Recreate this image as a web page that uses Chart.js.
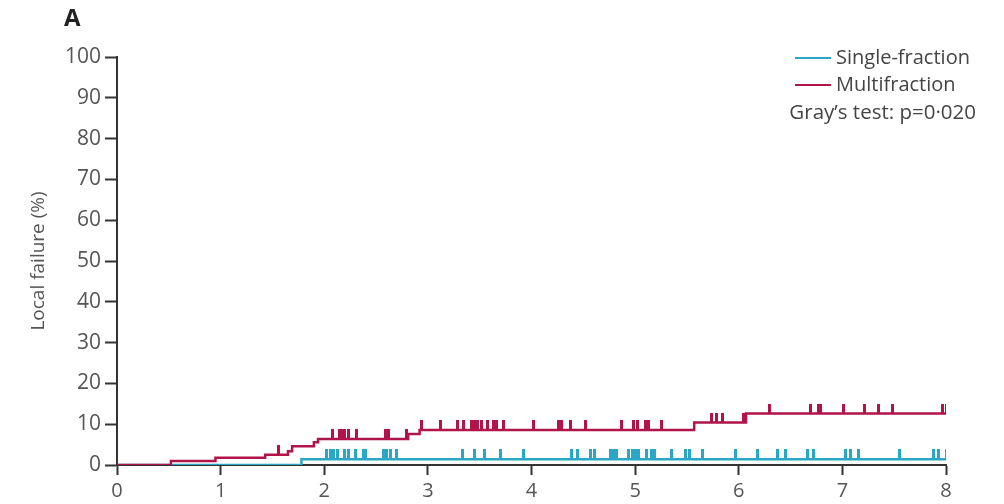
<!DOCTYPE html>
<html>
<head>
<meta charset="utf-8">
<script src="https://cdn.jsdelivr.net/npm/chart.js@4"></script>
<style>
  html, body { margin: 0; padding: 0; background: #fff; }
  #wrap { width: 1004px; height: 504px; position: relative; }
</style>
</head>
<body>
<div id="wrap"><canvas id="chart-failure"></canvas></div>
<script>
// step curves (years, cumulative local failure %)
const multiTimes = [0, 0.52, 0.95, 1.43, 1.65, 1.69, 1.90, 1.94, 2.81, 2.92, 5.57, 6.07, 8];
const multiLevels = [0, 1.0, 1.8, 2.5, 3.4, 4.6, 5.6, 6.4, 7.6, 8.6, 10.4, 12.6, 12.6];
const singleTimes = [0, 1.78, 8];
const singleLevels = [0, 1.4, 1.4];

// censoring marks
const multiCensored = [1.56, 2.08, 2.15, 2.18, 2.20, 2.23, 2.31, 2.59, 2.62, 2.79, 2.94, 3.12, 3.29, 3.34,
  3.42, 3.45, 3.48, 3.52, 3.58, 3.63, 3.66, 3.73, 4.02, 4.26, 4.29, 4.38, 4.52, 4.87, 4.98, 5.02, 5.10,
  5.13, 5.25, 5.74, 5.79, 5.84, 6.05, 6.30, 6.69, 6.77, 6.79, 7.01, 7.21, 7.35, 7.48, 7.97, 8.0];
const singleCensored = [2.02, 2.06, 2.09, 2.13, 2.20, 2.23, 2.30, 2.38, 2.40, 2.57, 2.60, 2.64, 2.70, 3.33,
  3.45, 3.55, 3.70, 3.92, 4.39, 4.44, 4.57, 4.61, 4.76, 4.79, 4.82, 4.94, 4.97, 5.00, 5.03, 5.11, 5.16,
  5.19, 5.35, 5.49, 5.52, 5.65, 5.97, 6.18, 6.37, 6.45, 6.66, 6.72, 7.03, 7.08, 7.16, 7.55, 7.88, 7.93, 8.0];

const xTicks = [0, 1, 2, 3, 4, 5, 6, 7, 8];
const yTicks = [0, 10, 20, 30, 40, 50, 60, 70, 80, 90, 100];
const seriesNames = ["Single-fraction", "Multifraction"];
const testLabel = "Gray\u2019s test: p=0\u00b7020";

const RED = "#b01448";
const BLUE = "#2aa6c6";
const FONT = "'Open Sans', 'Noto Sans', sans-serif";

function levelAt(times, levels, t) {
  let v = levels[0];
  for (let i = 0; i < times.length; i++) {
    if (times[i] <= t) v = levels[i];
  }
  return v;
}

function tickMark(color) {
  // upward tick: only top half of the canvas is painted
  const c = document.createElement("canvas");
  c.width = 3;
  c.height = 20;
  const g = c.getContext("2d");
  g.fillStyle = color;
  g.fillRect(0, 0, 3, 10);
  return c;
}

const toPts = (ts, ls) => ts.map((t, i) => ({ x: t, y: ls[i] }));
const censorPts = (cs, ts, ls) => cs.map(t => ({ x: t, y: levelAt(ts, ls, t) }));

const legendPlugin = {
  id: "sideLegend",
  afterDraw(chart) {
    const ctx = chart.ctx;
    ctx.save();
    ctx.lineWidth = 2;
    [[BLUE, 58], [RED, 85]].forEach(([col, y], i) => {
      ctx.strokeStyle = col;
      ctx.beginPath();
      ctx.moveTo(795, y);
      ctx.lineTo(831, y);
      ctx.stroke();
      ctx.fillStyle = "#444";
      ctx.font = "20px " + FONT;
      ctx.textBaseline = "middle";
      ctx.textAlign = "left";
      ctx.fillText(seriesNames[i], 836, y);
    });
    ctx.font = "20.5px " + FONT;
    ctx.textAlign = "right";
    ctx.fillText(testLabel, 976, 113);
    ctx.fillStyle = "#222";
    ctx.font = "bold 24px " + FONT;
    ctx.textAlign = "left";
    ctx.fillText("A", 64, 19);
    ctx.restore();
  }
};

const canvas = document.getElementById("chart-failure");

const chart = new Chart(canvas, {
  type: "line",
  data: {
    datasets: [
      {
        label: seriesNames[0],
        data: toPts(singleTimes, singleLevels),
        borderColor: BLUE,
        borderWidth: 2.5,
        stepped: "before",
        pointRadius: 0,
        order: 2
      },
      {
        label: seriesNames[1],
        data: toPts(multiTimes, multiLevels),
        borderColor: RED,
        borderWidth: 2.5,
        stepped: "before",
        pointRadius: 0,
        order: 1
      },
      {
        type: "scatter",
        data: censorPts(singleCensored, singleTimes, singleLevels),
        pointStyle: tickMark(BLUE),
        pointRadius: 10,
        order: 2
      },
      {
        type: "scatter",
        data: censorPts(multiCensored, multiTimes, multiLevels),
        pointStyle: tickMark(RED),
        pointRadius: 10,
        order: 1
      }
    ]
  },
  options: {
    responsive: true,
    maintainAspectRatio: false,
    animation: false,
    layout: { padding: { left: 0, right: 58, top: 57, bottom: 0 } },
    plugins: {
      legend: { display: false },
      tooltip: { enabled: false }
    },
    scales: {
      x: {
        type: "linear",
        min: 0,
        max: 8,
        afterBuildTicks: s => { s.ticks = xTicks.map(v => ({ value: v })); },
        afterFit: s => { s.height = 39; },
        grid: { drawOnChartArea: false, tickLength: 10, color: "#333", tickWidth: 2 },
        border: { color: "#333", width: 2 },
        ticks: { color: "#555", font: { family: FONT, size: 20 }, padding: 4, maxRotation: 0 }
      },
      y: {
        min: 0,
        max: 100,
        afterBuildTicks: s => { s.ticks = yTicks.map(v => ({ value: v })); },
        afterFit: s => { s.width = 117; },
        grid: { drawOnChartArea: false, tickLength: 12, color: "#333", tickWidth: 2 },
        border: { color: "#333", width: 2 },
        ticks: { color: "#555", font: { family: FONT, size: 21 }, padding: 4 },
        title: {
          display: true,
          text: "Local failure (%)",
          color: "#555",
          font: { family: FONT, size: 19 },
          padding: { top: 27, bottom: 0 }
        }
      }
    }
  },
  plugins: [legendPlugin]
});
</script>
</body>
</html>
